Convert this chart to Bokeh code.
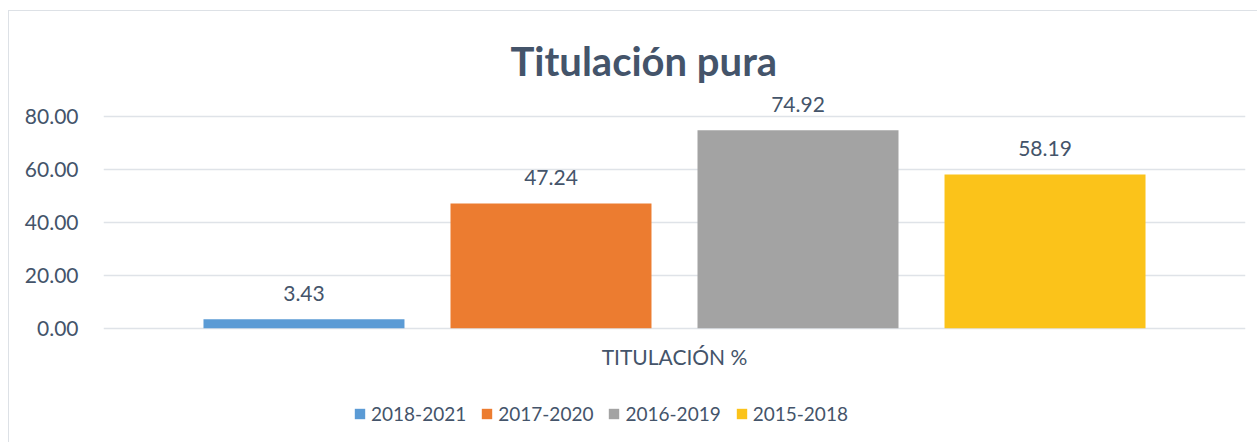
from bokeh.plotting import figure
from bokeh.models import (FactorRange, Range1d, ColumnDataSource, FixedTicker,
                          NumeralTickFormatter, Legend, LegendItem)
from bokeh.transform import dodge
from bokeh.core.properties import value
from bokeh.embed import file_html
from bokeh.resources import INLINE

# ---- data ----
category = ["TITULACIÓN %"]
series = ["2018-2021", "2017-2020", "2016-2019", "2015-2018"]
values = [3.43, 47.24, 74.92, 58.19]
colors = ["#5b9bd5", "#ec7c30", "#a3a3a3", "#fbc31a"]
y_ticks = [0, 20, 40, 60, 80]

TEXT = "#44546a"
GRID = "#dfe3e8"
FONT = "Lato"

# frame extends below the zero line to hold the legend (no clipping there)
p = figure(width=1249, height=432, x_range=FactorRange(*category),
           y_range=Range1d(-42.5, 90), output_backend="svg", toolbar_location=None,
           min_border_left=94, min_border_right=13, min_border_top=79,
           min_border_bottom=3)
p.styles = {"margin-left": "8px", "margin-top": "10px",
            "border-left": "1px solid #dde1e6", "border-top": "1px solid #dde1e6"}
p.outline_line_color = None
p.background_fill_color = "white"
p.border_fill_color = "white"

p.title.text = "Titulación pura"
p.title.text_font = FONT
p.title.text_font_size = "40px"
p.title.text_font_style = "bold"
p.title.text_color = TEXT
p.title.align = "left"
p.title.offset = 407
p.title.standoff = 11

# axes
p.yaxis.ticker = FixedTicker(ticks=y_ticks)
p.yaxis.formatter = NumeralTickFormatter(format="0.00")
p.yaxis.axis_line_color = None
p.yaxis.major_tick_line_color = None
p.yaxis.minor_tick_line_color = None
p.yaxis.major_label_standoff = 19
p.yaxis.major_label_text_font = FONT
p.yaxis.major_label_text_font_size = "21px"
p.yaxis.major_label_text_color = TEXT

p.xaxis.axis_line_color = None
p.xaxis.major_tick_line_color = None
p.xaxis.major_label_standoff = -103
p.xaxis.major_label_text_font = FONT
p.xaxis.major_label_text_font_size = "21px"
p.xaxis.major_label_text_color = TEXT

p.xgrid.grid_line_color = None
p.ygrid.grid_line_color = GRID
p.ygrid.grid_line_width = 1.5

spacing = 0.2163
bar_w = 0.176
items = []
for i, (name, v, c) in enumerate(zip(series, values, colors)):
    off = (i - (len(series) - 1) / 2) * spacing
    src = ColumnDataSource(dict(cat=category, val=[v], lab=[f"{v:.2f}"]))
    r = p.vbar(x=dodge("cat", off, range=p.x_range), top="val", width=bar_w,
               source=src, fill_color=c, line_color=None)
    p.text(x=dodge("cat", off, range=p.x_range), y="val", text="lab", source=src,
           y_offset=-26, text_align="center", text_baseline="alphabetic",
           text_font=value(FONT), text_font_size="21px", text_color=TEXT)
    items.append(LegendItem(label=name, renderers=[r]))

legend = Legend(items=items, orientation="horizontal", location=(250, 15),
                glyph_width=13, glyph_height=13, label_standoff=5, spacing=14,
                padding=0, margin=0, border_line_color=None,
                background_fill_alpha=0, label_text_font=FONT,
                label_text_font_size="19px", label_text_color=TEXT)
p.add_layout(legend, "center")

open("out.html", "w").write(file_html(p, INLINE))
